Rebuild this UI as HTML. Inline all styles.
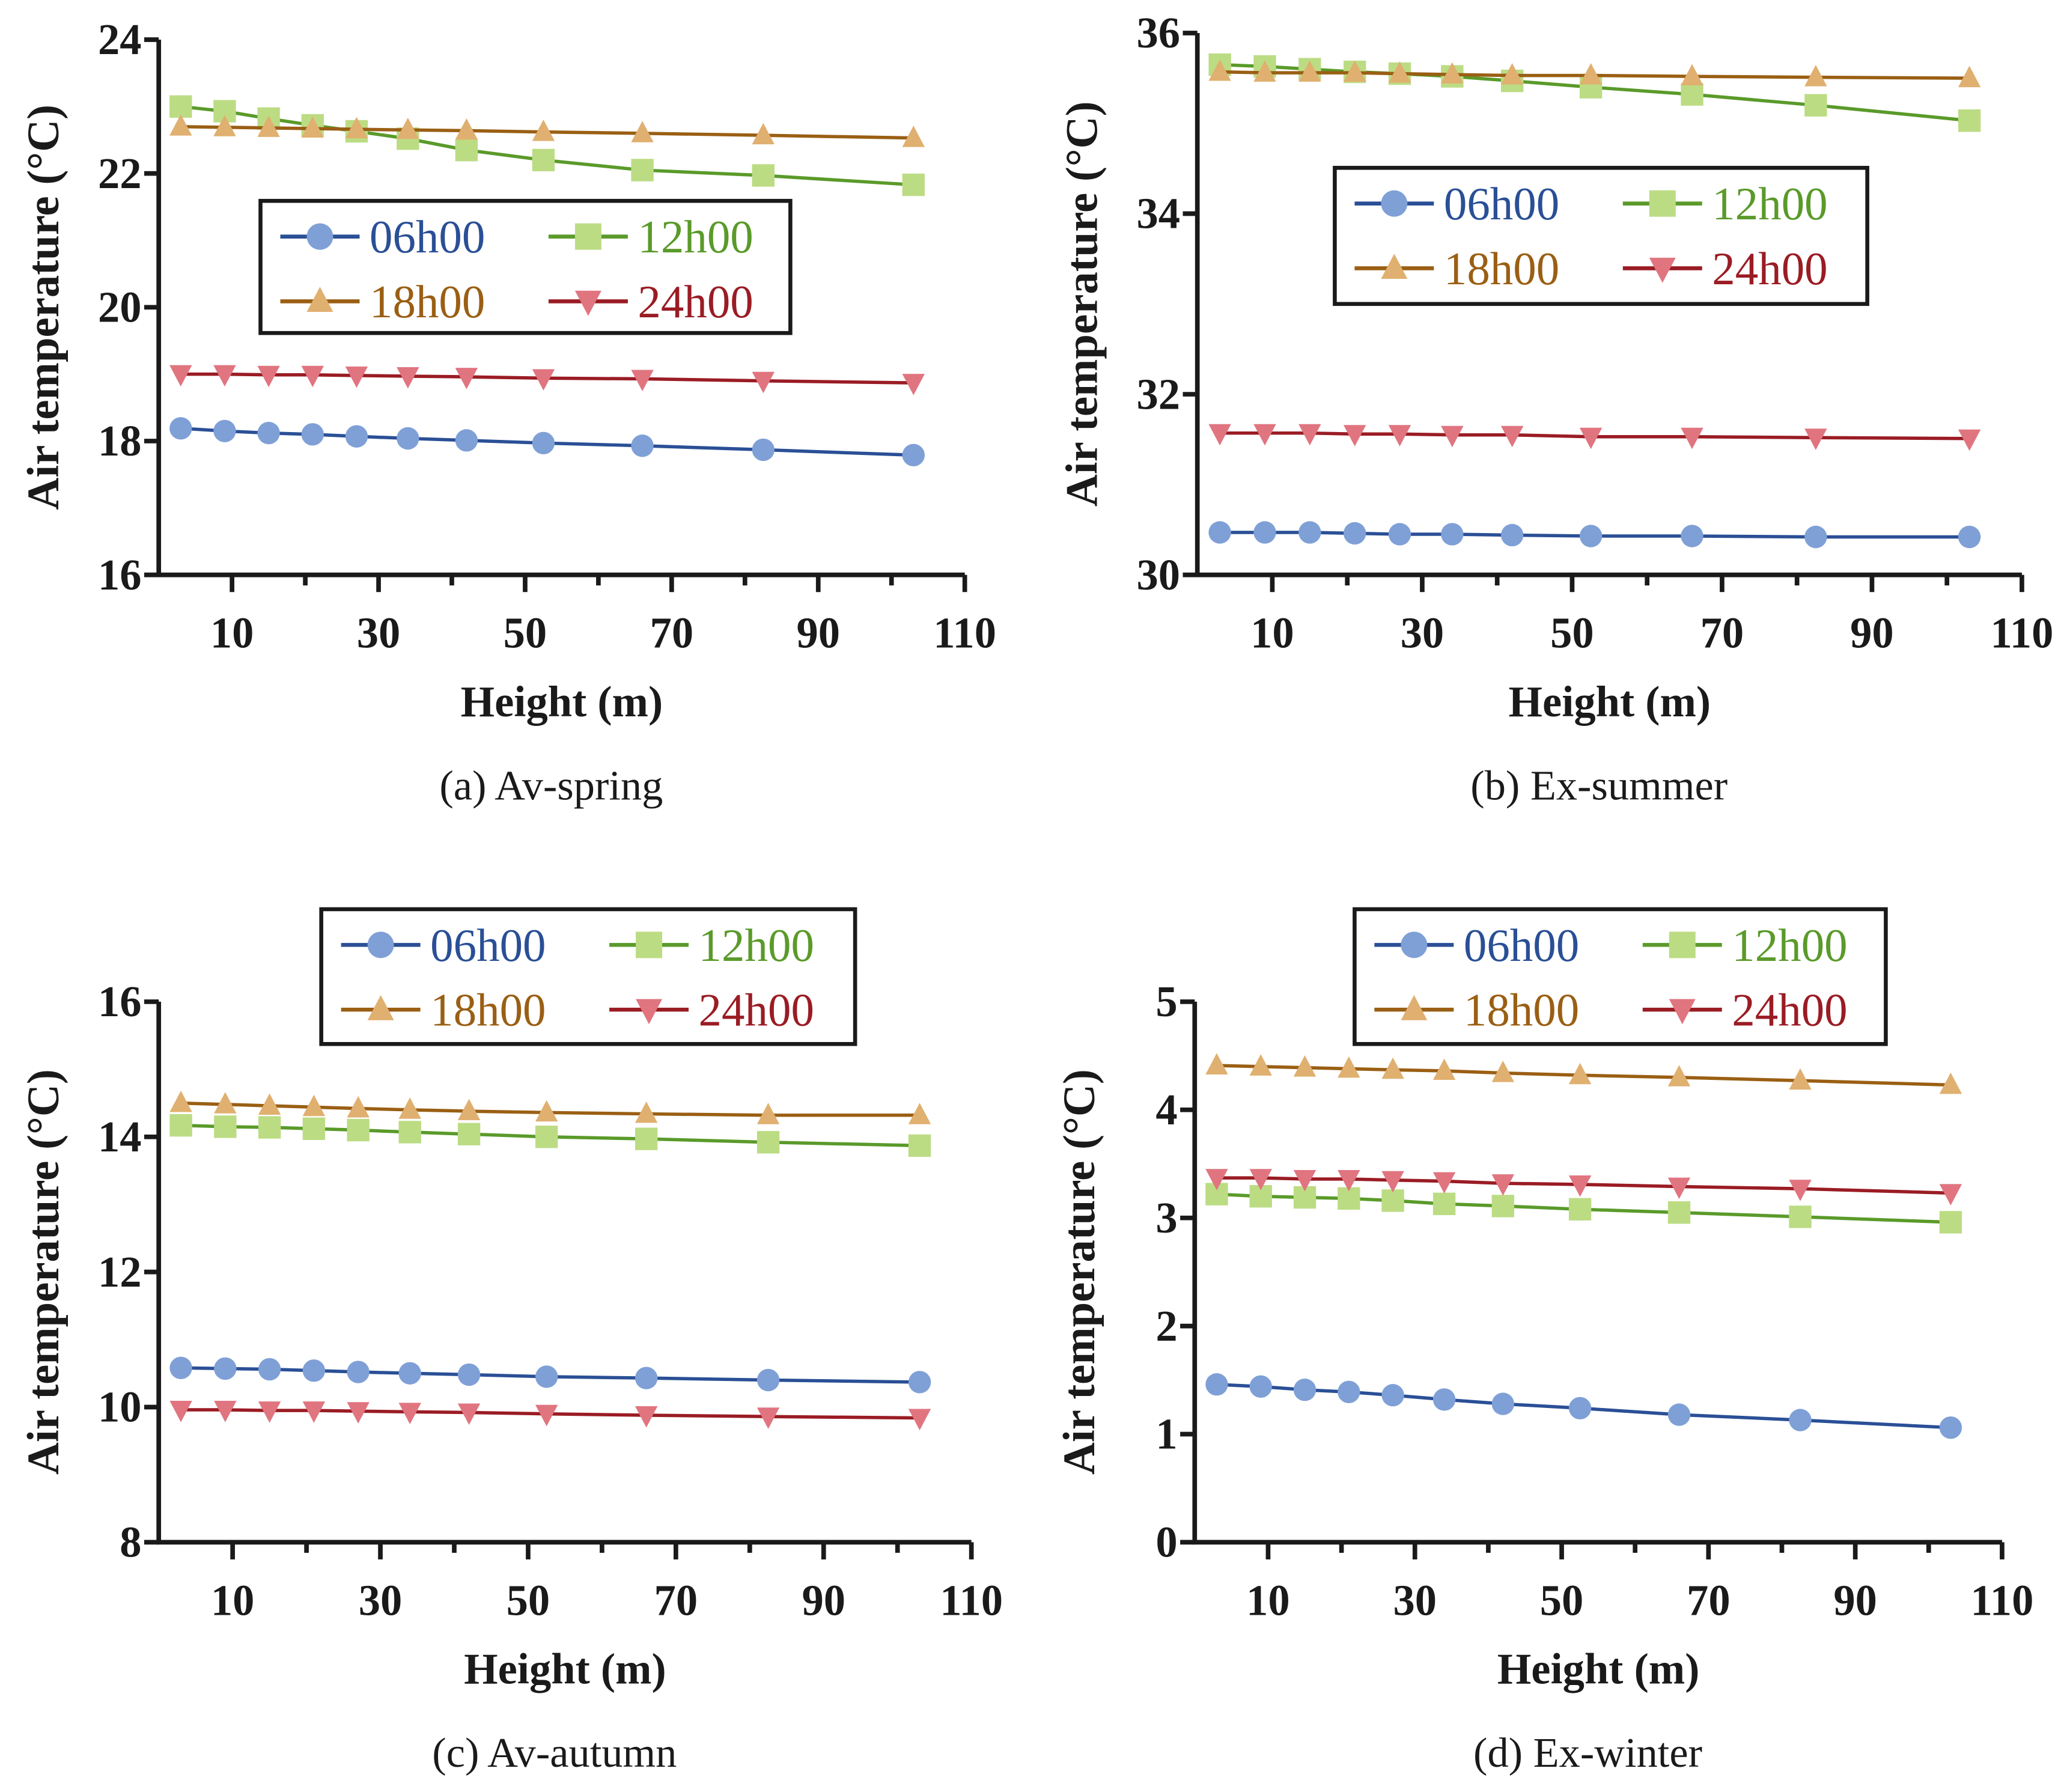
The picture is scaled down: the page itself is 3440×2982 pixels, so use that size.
<!DOCTYPE html>
<html><head><meta charset="utf-8"><style>
html,body{margin:0;padding:0;background:#fff;}
svg{display:block;font-family:"Liberation Serif","Times New Roman",serif;}
</style></head><body>
<svg id="fig" width="3440" height="2982" viewBox="0 0 1564 1356" xmlns="http://www.w3.org/2000/svg" font-family="Liberation Serif, serif"></svg>
<script>
const heights = [3, 9, 15, 21, 27, 34, 42, 52.5, 66, 82.5, 103];
const seriesNames = ["06h00", "12h00", "18h00", "24h00"];
const xTicks = [10, 30, 50, 70, 90, 110];
const xMinorTicks = [20, 40, 60, 80, 100];

const springT06 = [18.19,18.15,18.12,18.10,18.07,18.04,18.01,17.97,17.93,17.87,17.79];
const springT12 = [23.0,22.93,22.82,22.72,22.63,22.52,22.35,22.2,22.05,21.97,21.83];
const springT18 = [22.7,22.69,22.68,22.67,22.66,22.65,22.64,22.62,22.6,22.57,22.53];
const springT24 = [19.0,19.0,18.99,18.99,18.98,18.97,18.96,18.94,18.93,18.9,18.87];
const springYTicks = [16, 18, 20, 22, 24];

const summerT06 = [30.47,30.47,30.47,30.46,30.45,30.45,30.44,30.43,30.43,30.42,30.42];
const summerT12 = [35.65,35.63,35.6,35.57,35.55,35.52,35.47,35.4,35.32,35.2,35.03];
const summerT18 = [35.57,35.56,35.56,35.56,35.55,35.54,35.53,35.53,35.52,35.51,35.5];
const summerT24 = [31.57,31.57,31.57,31.56,31.56,31.55,31.55,31.53,31.53,31.52,31.51];
const summerYTicks = [30, 32, 34, 36];

const autumnT06 = [10.58,10.57,10.56,10.54,10.52,10.5,10.48,10.45,10.43,10.4,10.37];
const autumnT12 = [14.17,14.15,14.14,14.12,14.1,14.07,14.04,14.0,13.97,13.92,13.87];
const autumnT18 = [14.5,14.48,14.46,14.44,14.42,14.4,14.38,14.36,14.34,14.32,14.32];
const autumnT24 = [9.96,9.96,9.95,9.95,9.94,9.93,9.92,9.9,9.88,9.86,9.84];
const autumnYTicks = [8, 10, 12, 14, 16];

const winterT06 = [1.46,1.44,1.41,1.39,1.36,1.32,1.28,1.24,1.18,1.13,1.06];
const winterT12 = [3.22,3.2,3.19,3.18,3.16,3.13,3.11,3.08,3.05,3.01,2.96];
const winterT18 = [4.41,4.4,4.39,4.38,4.37,4.36,4.34,4.32,4.3,4.27,4.23];
const winterT24 = [3.37,3.37,3.36,3.36,3.35,3.34,3.32,3.31,3.29,3.27,3.23];
const winterYTicks = [0, 1, 2, 3, 4, 5];

const NS = "http://www.w3.org/2000/svg";
const svg = document.getElementById("fig");
const FONT = '"Liberation Serif", serif';
const lineColors = ["#2a4f96", "#5a9a2a", "#9a5f14", "#9a1c24"];
const markColors = ["#7fa0d6", "#bcdc84", "#e0b070", "#e07580"];
const textColors = ["#2a4f96", "#5a9a2a", "#9a5f14", "#9a1c24"];
const shapes = ["circle", "square", "tri-up", "tri-down"];

function el(tag, attrs, parent) {
  const e = document.createElementNS(NS, tag);
  for (const k in attrs) e.setAttribute(k, attrs[k]);
  if (tag === "text") e.style.fontFamily = FONT;
  (parent || svg).appendChild(e);
  return e;
}
function marker(g, shape, x, y, color, s) {
  let m;
  if (shape === "circle") m = el("circle", {cx:x, cy:y, r:s, fill:color}, g);
  else if (shape === "square") m = el("rect", {x:x-s, y:y-s, width:2*s, height:2*s, fill:color}, g);
  else if (shape === "tri-up") m = el("polygon", {points:`${x},${y-s*1.1} ${x-s},${y+s*0.8} ${x+s},${y+s*0.8}`, fill:color}, g);
  else m = el("polygon", {points:`${x},${y+s*1.1} ${x-s},${y-s*0.8} ${x+s},${y-s*0.8}`, fill:color}, g);
  return m;
}

const panels = [
  {id:"a", data:[springT06, springT12, springT18, springT24], yTicks:springYTicks,
   x0:120, x1:730, yTop:30, yBot:435, cap:"(a) Av-spring", leg:[197,152,401,100]},
  {id:"b", data:[summerT06, summerT12, summerT18, summerT24], yTicks:summerYTicks,
   x0:906, x1:1530, yTop:25, yBot:435, cap:"(b) Ex-summer", leg:[1010,127,403,103]},
  {id:"c", data:[autumnT06, autumnT12, autumnT18, autumnT24], yTicks:autumnYTicks,
   x0:120, x1:735, yTop:758, yBot:1167, cap:"(c) Av-autumn", leg:[243,688,404,102]},
  {id:"d", data:[winterT06, winterT12, winterT18, winterT24], yTicks:winterYTicks,
   x0:904, x1:1515, yTop:758, yBot:1167, cap:"(d) Ex-winter", leg:[1025,688,402,102]}
];

panels.forEach(p => {
  const g = el("g", {});
  
  
  const yMin = p.yTicks[0], yMax = p.yTicks[p.yTicks.length-1];
  const xs = v => p.x0 + (v / 110) * (p.x1 - p.x0);
  const ys = v => p.yBot - (v - yMin) / (yMax - yMin) * (p.yBot - p.yTop);

  const ax = el("path", {d:`M${p.x0},${p.yTop} V${p.yBot} H${p.x1}`, stroke:"#1a1a1a", "stroke-width":3.5, fill:"none"}, g);
  
  
  p.yTicks.forEach(t => {
    const y = ys(t);
    el("line", {x1:p.x0-11, x2:p.x0, y1:y, y2:y, stroke:"#1a1a1a", "stroke-width":3.5}, g);
    const tl = el("text", {x:p.x0-13, y:y+11, "text-anchor":"end", "font-size":33, "font-weight":"bold", fill:"#1a1a1a"}, g);
    tl.textContent = t;
    
    
  });
  xTicks.forEach(t => {
    const x = xs(t);
    el("line", {x1:x, x2:x, y1:p.yBot, y2:p.yBot+13, stroke:"#1a1a1a", "stroke-width":3.5}, g);
    const tl = el("text", {x:x, y:p.yBot+55, "text-anchor":"middle", "font-size":33, "font-weight":"bold", fill:"#1a1a1a"}, g);
    tl.textContent = t;
    
    
  });
  xMinorTicks.forEach(t => {
    const x = xs(t);
    el("line", {x1:x, x2:x, y1:p.yBot, y2:p.yBot+8, stroke:"#1a1a1a", "stroke-width":3.5}, g);
  });
  const cx = (p.x0 + p.x1) / 2;
  const xt = el("text", {x:cx, y:p.yBot+107, "text-anchor":"middle", "font-size":33, "font-weight":"bold", fill:"#1a1a1a"}, g);
  xt.textContent = "Height (m)";
  
  
  const ymid = (p.yTop + p.yBot) / 2;
  const ytx = p.x0 - 76;
  const yt = el("text", {x:ytx, y:ymid, "text-anchor":"middle", "font-size":34, "font-weight":"bold", fill:"#1a1a1a", transform:`rotate(-90 ${ytx} ${ymid})`}, g);
  yt.textContent = "Air temperature (°C)";
  
  
  const cp = el("text", {x:cx - 8, y:p.yBot+170, "text-anchor":"middle", "font-size":32, fill:"#1a1a1a"}, g);
  cp.textContent = p.cap;
  
  

  p.data.forEach((vals, si) => {
    const sg = el("g", {}, g);
    
    
    const pts = vals.map((v, i) => `${xs(heights[i])},${ys(v)}`).join(" ");
    const pl = el("polyline", {points:pts, fill:"none", stroke:lineColors[si], "stroke-width":2.5}, sg);
    
    
    vals.forEach((v, i) => {
      const m = marker(sg, shapes[si], xs(heights[i]), ys(v), markColors[si], 8.5);
      
      
    });
  });

  const [lx, ly, lw, lh] = p.leg;
  const lg = el("g", {}, g);
  
  
  el("rect", {x:lx, y:ly, width:lw, height:lh, fill:"#fff", stroke:"#1a1a1a", "stroke-width":3}, lg);
  seriesNames.forEach((n, si) => {
    const col = si % 2, row = Math.floor(si / 2);
    const sx = lx + 15 + col * 203, sy = ly + 27 + row * 49;
    const e = el("g", {}, lg);
    
    
    el("line", {x1:sx, x2:sx+60, y1:sy, y2:sy, stroke:lineColors[si], "stroke-width":3}, e);
    marker(e, shapes[si], sx+30, sy, markColors[si], 10);
    const t = el("text", {x:sx+155, y:sy+12, "text-anchor":"end", "font-size":35, fill:textColors[si]}, e);
    t.textContent = n;
  });
});
</script>
</body></html>
